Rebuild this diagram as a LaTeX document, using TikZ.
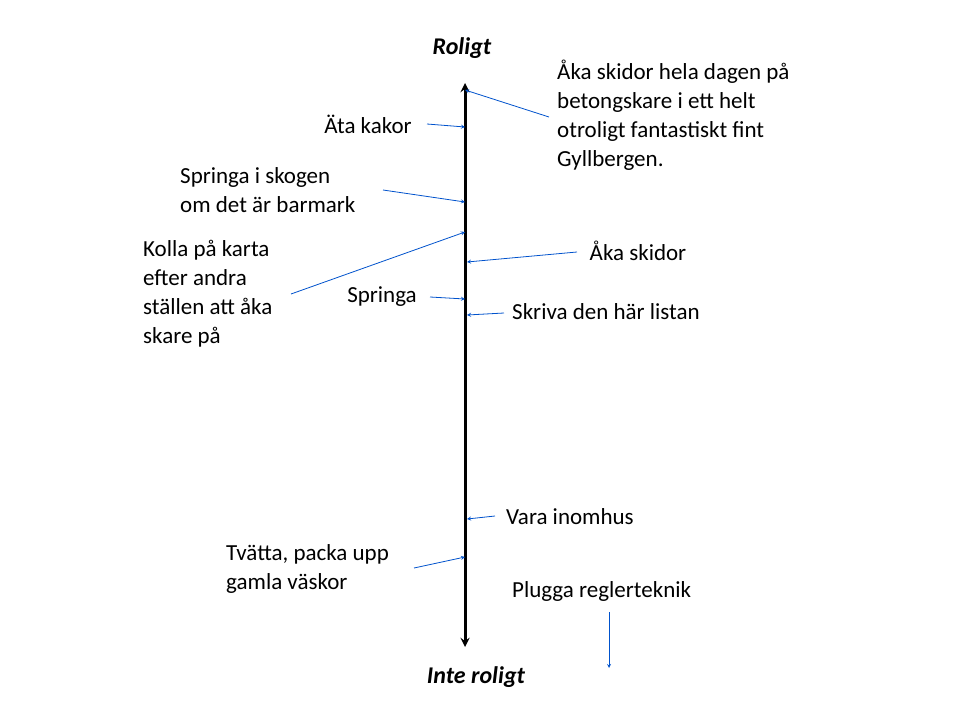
\documentclass[tikz,border=0pt]{standalone}
\usepackage{fontspec}
\setmainfont{Carlito}
\usetikzlibrary{positioning}
\begin{document}
\begin{tikzpicture}[
        x=1pt, y=-1pt,
        item/.style={font=\fontsize{23}{29}\selectfont, inner sep=0pt, align=left},
        pointer/.style={-stealth, draw=blue!60!cyan!80!black, line width=0.8pt},
        axis/.style={-stealth, line width=3pt}
    ]
        \useasboundingbox (0,0) rectangle (960,720);
        % Axis
        \coordinate (top) at (465,83);
        \coordinate (bottom) at (465,647);
        \coordinate (mid) at (465,400);
        \draw[axis] (mid) -- (top);
        \draw[axis] (mid) -- (bottom);
        \node[item, font=\fontsize{24}{24}\selectfont\bfseries\itshape] (fun) at (462,48) {Roligt};
        \node[item, font=\fontsize{24}{24}\selectfont\bfseries\itshape] (boring) at (476,677) {Inte roligt};

        % Targets on the axis
        \coordinate (t1) at (465,90);
        \coordinate (t2) at (465,127);
        \coordinate (t3) at (465,202);
        \coordinate (t4) at (465,232);
        \coordinate (t5) at (467,262);
        \coordinate (t6) at (465,299);
        \coordinate (t7) at (467,315);
        \coordinate (t8) at (467,519);
        \coordinate (t9) at (465,557);

        % Left side
        \node[item] (kakor) at (368,124) {Äta kakor};
        \node[item, anchor=west] (skogen) at (180,190) {Springa i skogen\\om det är barmark};
        \node[item, anchor=west] (karta) at (143,294) {Kolla på karta\\efter andra\\ställen att åka\\skare på};
        \node[item] (springa) at (382,297) {Springa};
        \node[item, anchor=west] (tvatta) at (226,569) {Tvätta, packa upp\\gamla väskor};

        % Right side
        \node[item, anchor=west] (heldag) at (557,115) {Åka skidor hela dagen på\\betongskare i ett helt\\otroligt fantastiskt fint\\Gyllbergen.};
        \node[item] (skidor) at (638,251) {Åka skidor};
        \node[item, anchor=west] (lista) at (512,312) {Skriva den här listan};
        \node[item, anchor=west] (inne) at (506,517) {Vara inomhus};
        \node[item, anchor=west] (plugga) at (512,591) {Plugga reglerteknik};

        % Pointers
        \coordinate (s2) at (427,124);
        \coordinate (s6) at (430,297);
        \coordinate (s9) at (414,568);
        \draw[pointer] (s2) -- (t2);
        \draw[pointer] (383,190) -- (t3);
        \draw[pointer] (291,294) -- (t4);
        \draw[pointer] (s6) -- (t6);
        \draw[pointer] (s9) -- (t9);
        \draw[pointer] (549,117) -- (t1);
        \draw[pointer] (577,252) -- (t5);
        \draw[pointer] (504,313) -- (t7);
        \draw[pointer] (495,516) -- (t8);
        \coordinate (p1) at (609,612);
        \coordinate (p2) at (609,668);
        \draw[pointer] (p1) -- (p2);
    \end{tikzpicture}
\end{document}
